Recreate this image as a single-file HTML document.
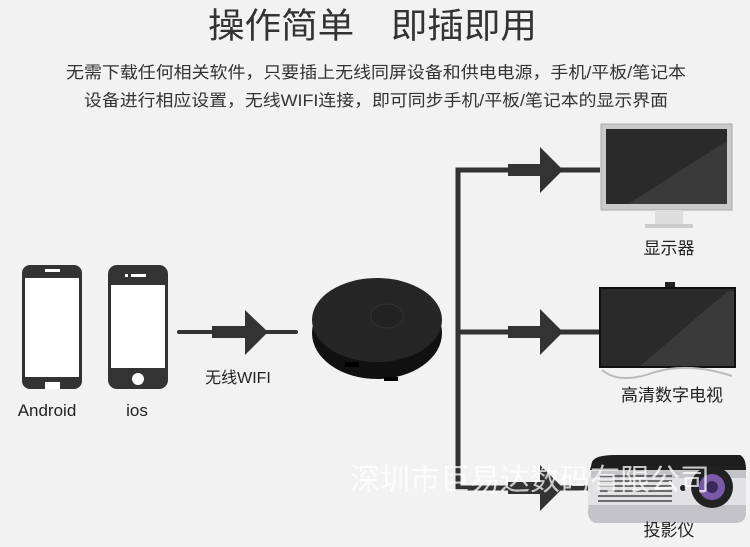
<!DOCTYPE html>
<html><head><meta charset="utf-8"><style>
html,body{margin:0;padding:0;background:#f2f2f2;}
svg{display:block;font-family:"Liberation Sans","Noto Sans CJK SC",sans-serif;}
</style></head><body>
<svg width="750" height="547" viewBox="0 0 750 547" xmlns="http://www.w3.org/2000/svg">
<rect width="750" height="547" fill="#f2f2f2"/>
<text x="208" y="38" font-size="35" fill="#333" textLength="329" lengthAdjust="spacingAndGlyphs">操作简单　即插即用</text>
<text x="66" y="78" font-size="16.5" fill="#333" textLength="620" lengthAdjust="spacingAndGlyphs">无需下载任何相关软件，只要插上无线同屏设备和供电电源，手机/平板/笔记本</text>
<text x="84" y="106" font-size="16.5" fill="#333" textLength="584" lengthAdjust="spacingAndGlyphs">设备进行相应设置，无线WIFI连接，即可同步手机/平板/笔记本的显示界面</text>
<!-- Android phone -->
<rect x="22" y="265" width="60" height="124" rx="8" fill="#333"/>
<rect x="25" y="278" width="54" height="99" fill="#fff"/>
<rect x="45" y="269" width="15" height="3" fill="#fff"/>
<rect x="45" y="382" width="15" height="7" fill="#fff"/>
<!-- iOS phone -->
<rect x="108" y="265" width="60" height="124" rx="9" fill="#333"/>
<rect x="111" y="285" width="54" height="83" fill="#fff"/>
<rect x="125" y="274" width="3" height="3" fill="#fff"/>
<rect x="131" y="274" width="15" height="3" fill="#fff"/>
<circle cx="138" cy="379" r="6" fill="#fff"/>
<text x="47" y="416" font-size="17" fill="#222" text-anchor="middle">Android</text>
<text x="137" y="416" font-size="17" fill="#222" text-anchor="middle">ios</text>
<!-- left arrow -->
<line x1="179" y1="332" x2="296" y2="332" stroke="#333" stroke-width="4" stroke-linecap="round"/>
<rect x="212" y="326" width="35" height="12" fill="#333"/>
<polygon points="245,310 268,332 245,355" fill="#333"/>
<text x="238" y="383" font-size="16" fill="#222" text-anchor="middle">无线WIFI</text>
<!-- device -->
<ellipse cx="377" cy="333" rx="65" ry="46" fill="#111"/>
<ellipse cx="377" cy="320" rx="65" ry="42" fill="#262626"/>
<ellipse cx="387" cy="316" rx="16" ry="12" fill="#222" stroke="#333"/>
<rect x="345" y="362" width="14" height="5" fill="#000"/>
<rect x="384" y="377" width="14" height="4" fill="#000"/>
<!-- branches -->
<path d="M600 170 H458 V488 H600 M458 332 H600" stroke="#333" stroke-width="5" fill="none"/>
<g fill="#333">
<rect x="508" y="164" width="34" height="12"/><polygon points="540,147 563,170 540,193"/>
<rect x="508" y="326" width="34" height="12"/><polygon points="540,309 563,332 540,355"/>
<rect x="508" y="482" width="34" height="12"/><polygon points="540,465 563,488 540,511"/>
</g>
<!-- monitor -->
<rect x="601" y="124" width="131" height="86" fill="#c9c9cc" stroke="#aaa"/>
<rect x="606" y="129" width="121" height="75" fill="#2a2a2a"/>
<polygon points="727,141 727,204 628,204" fill="#3a3a3a"/>
<rect x="655" y="210" width="28" height="14" fill="#ddd"/>
<rect x="645" y="224" width="48" height="4" fill="#ccc"/>
<text x="669" y="254" font-size="17" fill="#222" text-anchor="middle">显示器</text>
<!-- TV -->
<rect x="665" y="282" width="10" height="6" fill="#222"/>
<rect x="599" y="287" width="137" height="81" fill="#111"/>
<rect x="601" y="289" width="133" height="77" fill="#2a2a2a"/>
<polygon points="728,291 734,291 734,366 640,366" fill="#3a3a3a"/>
<path d="M602 370 Q620 385 655 372 Q690 362 732 376" stroke="#bbb" stroke-width="2" fill="none"/>
<text x="672" y="401" font-size="17" fill="#222" text-anchor="middle">高清数字电视</text>
<!-- projector -->
<path d="M592 462 Q595 455 615 455 L740 455 Q746 458 746 470 L746 515 Q744 523 735 523 L595 523 Q588 520 588 512 Z" fill="#c4c4c8"/>
<path d="M588 478 L746 478 L746 505 L588 505 Z" fill="#e2e2e4"/>
<path d="M592 462 Q595 455 615 455 L740 455 Q746 458 746 470 L590 470 Z" fill="#1e1e1e"/>
<g stroke="#444" stroke-width="1.5">
<line x1="598" y1="476" x2="672" y2="476"/><line x1="598" y1="481" x2="672" y2="481"/><line x1="598" y1="486" x2="672" y2="486"/><line x1="598" y1="491" x2="672" y2="491"/><line x1="598" y1="496" x2="672" y2="496"/><line x1="598" y1="501" x2="672" y2="501"/>
</g>
<circle cx="683" cy="488" r="3" fill="#222"/>
<circle cx="712" cy="487" r="21" fill="#222"/>
<circle cx="712" cy="487" r="13" fill="#7a5aa8"/>
<circle cx="712" cy="487" r="6" fill="#3a2a5a"/>
<text x="669" y="536" font-size="17" fill="#222" text-anchor="middle">投影仪</text>
<!-- watermark -->
<text x="530" y="490" font-size="30" fill="#fff" fill-opacity="0.75" text-anchor="middle">深圳市巨易达数码有限公司</text>
</svg>
</body></html>
